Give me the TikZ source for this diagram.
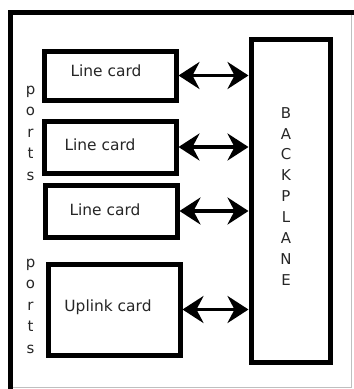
\documentclass[tikz,border=0pt]{standalone}
\usepackage{fontspec}
\setmainfont{DejaVu Sans}
\usetikzlibrary{arrows.meta}
\begin{document}
\begin{tikzpicture}[x=1bp,y=-1bp,
  card/.style={draw=black,line width=5bp,fill=white},
  lbl/.style={font=\fontsize{15.5}{17}\selectfont,text=black!85,inner sep=0pt},
  vlbl/.style={font=\fontsize{15}{21.5}\selectfont,text=black!85,inner sep=0pt,align=center},
  link/.style={line width=3.5bp,{Stealth[length=21bp,width=27bp,inset=7bp]}-{Stealth[length=21bp,width=27bp,inset=7bp]}},
  frame/.style={line width=5bp,line cap=rect}]
\useasboundingbox (0,0) rectangle (354,389);
\fill[white] (0,0) rectangle (354,389);
% outer frame
\draw[black!25,line width=0.8bp] (351.5,15) -- (351.5,387.5) -- (13,387.5);
\draw[frame] (10.5,389) -- (10.5,12) -- (354,12);
% cards
\node[card,minimum width=132bp,minimum height=49bp,anchor=north west] (lc1) at (41.5,48.5) {};
\node[card,minimum width=132bp,minimum height=52bp,anchor=north west] (lc2) at (41.5,118.5) {};
\node[card,minimum width=132bp,minimum height=52bp,anchor=north west] (lc3) at (42.5,182.5) {};
\node[card,minimum width=132bp,minimum height=91bp,anchor=north west] (up) at (45.5,261.5) {};
\node[card,minimum width=79bp,minimum height=323bp,anchor=north west] (bp) at (248.5,36.5) {};
% labels
\node[lbl] (t1) at (106,71) {Line card};
\node[lbl] (t2) at (100,144.5) {Line card};
\node[lbl] (t3) at (105,210) {Line card};
\node[lbl] (t4) at (108,307) {Uplink card};
\node[vlbl,anchor=north] (p1) at (30.5,86) {p\\o\\r\\t\\s};
\node[vlbl,anchor=north] (p2) at (30.5,259) {p\\o\\r\\t\\s};
\node[font=\fontsize{15}{21}\selectfont,text=black!85,inner sep=0pt,align=center,anchor=north] (bpl) at (286,107) {B\\A\\C\\K\\P\\L\\A\\N\\E};
% links
\coordinate (b1) at (bp.west |- lc1.east);
\coordinate (b2) at (bp.west |- lc2.east);
\coordinate (b3) at (bp.west |- lc3.east);
\coordinate (b4) at (bp.west |- up.east);
\draw[link] (lc1.east) -- (b1);
\draw[link] (lc2.east) -- (b2);
\draw[link] (lc3.east) -- (b3);
\draw[link] (up.east) -- (b4);
\end{tikzpicture}
\end{document}
